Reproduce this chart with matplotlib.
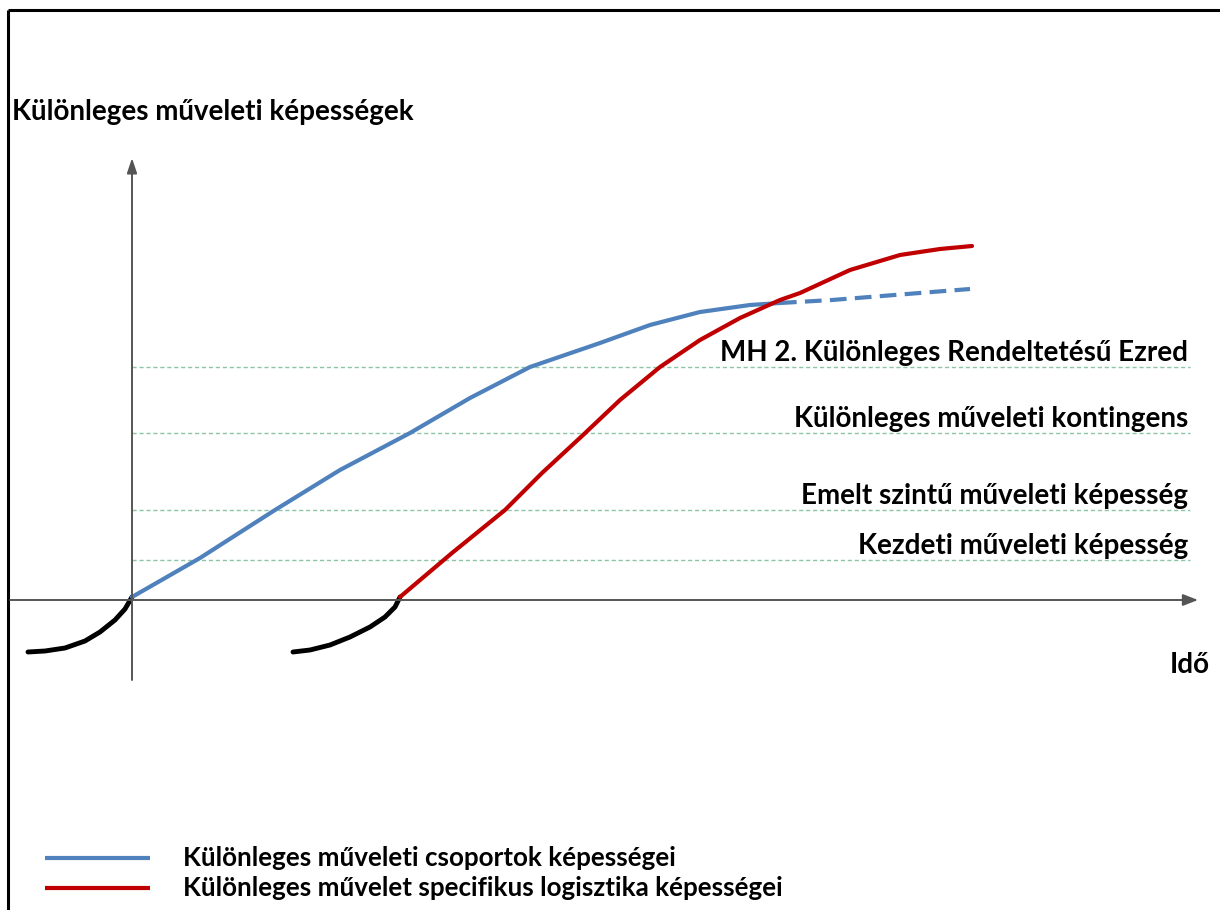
import matplotlib
matplotlib.use("Agg")
import matplotlib.pyplot as plt
import numpy as np

# Conceptual units: time (x) and capability (y); origin at the axes crossing
blue_x = [0.00, 0.68, 1.43, 2.08, 2.78, 3.38, 3.98, 4.68, 5.18, 5.68, 6.18, 6.48]
blue_y = [0.03, 0.42, 0.90, 1.30, 1.67, 2.02, 2.33, 2.57, 2.75, 2.88, 2.95, 2.97]
blue_dash_x = [6.48, 7.00, 7.50, 8.00, 8.38]
blue_dash_y = [2.97, 3.00, 3.04, 3.08, 3.11]

red_x = [2.68, 3.20, 3.73, 4.10, 4.50, 4.88, 5.28, 5.68, 6.08, 6.48, 6.68, 7.18, 7.68, 8.08, 8.40]
red_y = [0.03, 0.47, 0.90, 1.27, 1.64, 2.00, 2.33, 2.60, 2.82, 3.00, 3.07, 3.30, 3.45, 3.51, 3.54]

black1_x = [-1.04, -0.87, -0.67, -0.47, -0.32, -0.17, -0.07, 0.00]
black1_y = [-0.52, -0.51, -0.48, -0.41, -0.32, -0.20, -0.09, 0.03]
black2_x = [1.61, 1.78, 1.98, 2.18, 2.38, 2.53, 2.63, 2.68]
black2_y = [-0.52, -0.50, -0.45, -0.37, -0.27, -0.17, -0.07, 0.03]

level_y = [0.40, 0.90, 1.67, 2.33]
level_labels = ["Kezdeti műveleti képesség",
                "Emelt szintű műveleti képesség",
                "Különleges műveleti kontingens",
                "MH 2. Különleges Rendeltetésű Ezred"]

y_label = "Különleges műveleti képességek"
x_label = "Idő"
legend_labels = ["Különleges műveleti csoportok képességei",
                 "Különleges művelet specifikus logisztika képességei"]

BLUE = "#4f81bd"
RED = "#c00000"
GREEN = "#8cc6a8"

plt.rcParams['font.family'] = ['Lato', 'DejaVu Sans']

fig = plt.figure(figsize=(12.2, 9.1), dpi=100)
ax = fig.add_axes([0, 0, 1, 1])
ax.set_xlim(-1.32, 10.88)
ax.set_ylim(-3.10, 6.00)
ax.axis('off')

# frame (top and left)
ax.plot([-1.24, 10.88], [5.90, 5.90], color='black', lw=2.2, clip_on=False, solid_capstyle='butt')
ax.plot([-1.24, -1.24], [5.90, -3.10], color='black', lw=2.2, clip_on=False, solid_capstyle='butt')

# axes with arrows
ax.annotate("", xy=(10.66, 0.00), xytext=(-1.22, 0.00),
            arrowprops=dict(arrowstyle="-|>,head_length=0.9,head_width=0.35",
                            color='#555555', lw=1.4, shrinkA=0, shrinkB=0))
ax.annotate("", xy=(0.00, 4.42), xytext=(0.00, -0.80),
            arrowprops=dict(arrowstyle="-|>,head_length=0.9,head_width=0.3",
                            color='#555555', lw=1.4, shrinkA=0, shrinkB=0))

# level lines and labels
for yv, lab in zip(level_y, level_labels):
    ax.plot([0.00, 10.58], [yv, yv], color=GREEN, lw=1.0, dashes=(3, 2))
    ax.text(10.56, yv + 0.06, lab, ha='right', va='baseline', fontsize=20,
            fontweight='bold', color='black')

# curves
ax.plot(black1_x, black1_y, color='black', lw=3.5, solid_capstyle='round', solid_joinstyle='round')
ax.plot(black2_x, black2_y, color='black', lw=3.5, solid_capstyle='round', solid_joinstyle='round')
ax.plot(blue_x, blue_y, color=BLUE, lw=3.0, solid_capstyle='round', solid_joinstyle='round')
ax.plot(blue_dash_x, blue_dash_y, color=BLUE, lw=3.0, dashes=(4, 2))
ax.plot(red_x, red_y, color=RED, lw=3.0, solid_capstyle='round', solid_joinstyle='round')

# axis labels
ax.text(-1.20, 4.88, y_label, ha='left', va='center', fontsize=20,
        fontweight='bold', color='black')
ax.text(10.78, -0.65, x_label, ha='right', va='center', fontsize=20,
        fontweight='bold', color='black')

# legend
leg_y = [-2.58, -2.88]
for yv, col, lab in zip(leg_y, [BLUE, RED], legend_labels):
    ax.plot([-0.87, 0.18], [yv, yv], color=col, lw=3.0, solid_capstyle='butt')
    ax.text(0.51, yv, lab, ha='left', va='center', fontsize=18.7,
            fontweight='bold', color='black')

fig.savefig("out.png", dpi=100)
